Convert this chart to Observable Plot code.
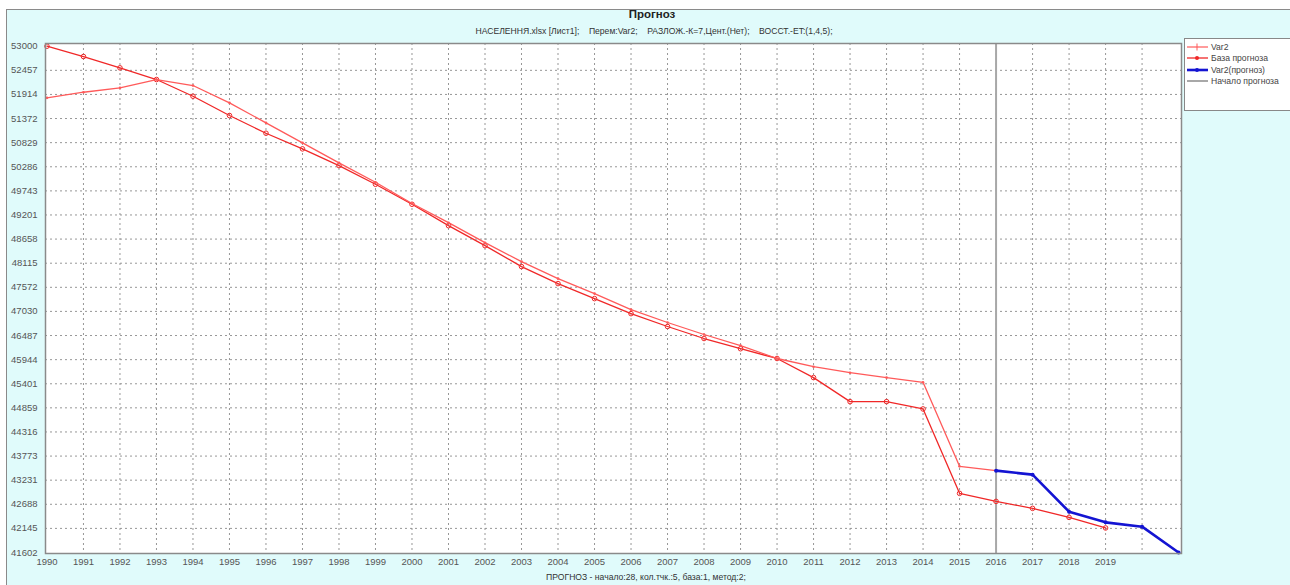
<!DOCTYPE html>
<html>
<head>
<meta charset="utf-8">
<script src="https://cdn.jsdelivr.net/npm/d3@7"></script>
<script src="https://cdn.jsdelivr.net/npm/@observablehq/plot@0.6"></script>
<style>
  html, body { margin: 0; padding: 0; background: #ffffff; }
  #page { position: relative; width: 1290px; height: 585px; overflow: hidden; font-family: "Liberation Sans", Arial, sans-serif; }
  #panel { position: absolute; left: 6px; top: 9px; width: 1290px; height: 580px; background: #e0fbfb; border-left: 1.5px solid #8a8a8a; border-top: 1.5px solid #8a8a8a; }
  #chart { position: absolute; left: 0; top: 0; }
  .ctext { position: absolute; transform: translateX(-50%); white-space: pre; color: #333; }
  #title { left: 652px; top: 8px; font-size: 11.5px; font-weight: bold; color: #222; }
  #subtitle { left: 654px; top: 26px; font-size: 8.6px; }
  #footer { left: 646px; top: 572px; font-size: 8.6px; }
  #legend { position: absolute; left: 1184px; top: 38px; width: 110px; height: 71px; background: #fff; border: 1px solid #888; font-size: 8.6px; color: #444; }
  .lrow { position: absolute; left: 2px; height: 11px; display: flex; align-items: center; }
  .lrow svg { margin-right: 3px; }
</style>
</head>
<body>
<div id="page">
  <div id="panel"></div>
  <div id="chart"></div>
  <div class="ctext" id="title">Прогноз</div>
  <div class="ctext" id="subtitle">НАСЕЛЕННЯ.xlsx [Лист1];    Перем:Var2;    РАЗЛОЖ.-К=7,Цент.(Нет);    ВОССТ.-ET:(1,4,5);</div>
  <div class="ctext" id="footer">ПРОГНОЗ - начало:28, кол.тчк.:5, база:1, метод:2;</div>
  <div id="legend"></div>
</div>
<script>
// ---- data ----
const var2Years = [1990,1991,1992,1993,1994,1995,1996,1997,1998,1999,2000,2001,2002,2003,2004,2005,2006,2007,2008,2009,2010,2011,2012,2013,2014,2015,2016];
const var2Values = [51838,51964,52063,52250,52115,51725,51275,50825,50374,49937,49460,49027,48577,48150,47769,47431,47070,46780,46510,46260,45970,45785,45650,45540,45433,43542,43445];

const baseYears = [1990,1991,1992,1993,1994,1995,1996,1997,1998,1999,2000,2001,2002,2003,2004,2005,2006,2007,2008,2009,2010,2011,2012,2013,2014,2015,2016,2017,2018,2019];
const baseValues = [53000,52768,52513,52250,51874,51440,51041,50689,50313,49892,49442,48960,48510,48039,47656,47318,46980,46690,46420,46190,45970,45540,44999,44999,44834,42934,42753,42596,42393,42155];

const forecastYears = [2016,2017,2018,2019,2020,2021];
const forecastValues = [43445,43355,42521,42281,42184,41602];

const forecastStart = [2016];

const xTickLabels = [1990,1991,1992,1993,1994,1995,1996,1997,1998,1999,2000,2001,2002,2003,2004,2005,2006,2007,2008,2009,2010,2011,2012,2013,2014,2015,2016,2017,2018,2019];
const xGridYears = [1991,1992,1993,1994,1995,1996,1997,1998,1999,2000,2001,2002,2003,2004,2005,2006,2007,2008,2009,2010,2011,2012,2013,2014,2015,2016,2017,2018,2019,2020];
const yTickLabels = [53000,52457,51914,51372,50829,50286,49743,49201,48658,48115,47572,47030,46487,45944,45401,44859,44316,43773,43231,42688,42145,41602];

const seriesNames = ["Var2", "База прогноза", "Var2(прогноз)", "Начало прогноза"];
const seriesColors = ["#ff5a5a", "#f02828", "#1414d2", "#a8a8a8"];

// ---- tables ----
const var2 = var2Years.map((y, i) => ({year: y, value: var2Values[i]}));
const base = baseYears.map((y, i) => ({year: y, value: baseValues[i]}));
const forecast = forecastYears.map((y, i) => ({year: y, value: forecastValues[i]}));

const chart = Plot.plot({
  width: 1290,
  height: 585,
  marginLeft: 45,
  marginRight: 109,
  marginTop: 43,
  marginBottom: 32,
  style: {background: "transparent", fontFamily: "Liberation Sans, Arial, sans-serif", fontSize: "9.5px", color: "#555"},
  x: {domain: [1989.96, 2021.08], label: null},
  y: {domain: [41580, 53061], label: null},
  marks: [
    Plot.frame({fill: "#ffffff", stroke: "none"}),
    Plot.gridX(xGridYears, {stroke: "#8c8c8c", strokeOpacity: 0.9, strokeDasharray: "2,3", strokeWidth: 1}),
    Plot.gridY(yTickLabels.slice(1, -1), {stroke: "#8c8c8c", strokeOpacity: 0.9, strokeDasharray: "2,3", strokeWidth: 1}),
    Plot.ruleX(forecastStart, {stroke: seriesColors[3], strokeWidth: 2}),
    Plot.line(base, {x: "year", y: "value", stroke: seriesColors[1], strokeWidth: 1.3}),
    Plot.dot(base, {x: "year", y: "value", r: 2.3, stroke: seriesColors[1], strokeWidth: 1, fill: "none"}),
    Plot.line(var2, {x: "year", y: "value", stroke: seriesColors[0], strokeWidth: 1.3}),
    Plot.dot(var2, {x: "year", y: "value", r: 1.3, fill: seriesColors[0], stroke: "none"}),
    Plot.line(forecast, {x: "year", y: "value", stroke: seriesColors[2], strokeWidth: 2.6}),
    Plot.dot(forecast, {x: "year", y: "value", r: 2, fill: seriesColors[2]}),
    Plot.axisX(xTickLabels, {tickSize: 0, tickPadding: 5, tickFormat: d => String(d), fill: "#555", label: null}),
    Plot.axisY(yTickLabels, {tickSize: 0, tickPadding: 8, tickFormat: d => String(d), fill: "#555", label: null}),
    Plot.frame({stroke: "#8a8a8a", strokeWidth: 1.5})
  ]
});
document.getElementById("chart").appendChild(chart);

// ---- legend ----
const legend = document.getElementById("legend");
const rowTops = [2, 13, 25, 36];
const widths = [1.2, 1.3, 2.6, 2];
seriesNames.forEach((name, i) => {
  const row = document.createElement("div");
  row.className = "lrow";
  row.style.top = rowTops[i] + "px";
  let marker = "";
  if (i === 0) marker = `<line x1="10" y1="1.5" x2="10" y2="8.5" stroke="${seriesColors[i]}" stroke-width="1"/>`;
  if (i === 1) marker = `<circle cx="10" cy="5" r="2" fill="${seriesColors[i]}"/>`;
  if (i === 2) marker = `<circle cx="10" cy="5" r="2" fill="${seriesColors[i]}"/>`;
  row.innerHTML = `<svg width="21" height="10"><line x1="0" y1="5" x2="21" y2="5" stroke="${seriesColors[i]}" stroke-width="${widths[i]}"/>${marker}</svg><span>${name}</span>`;
  legend.appendChild(row);
});
</script>
</body>
</html>
